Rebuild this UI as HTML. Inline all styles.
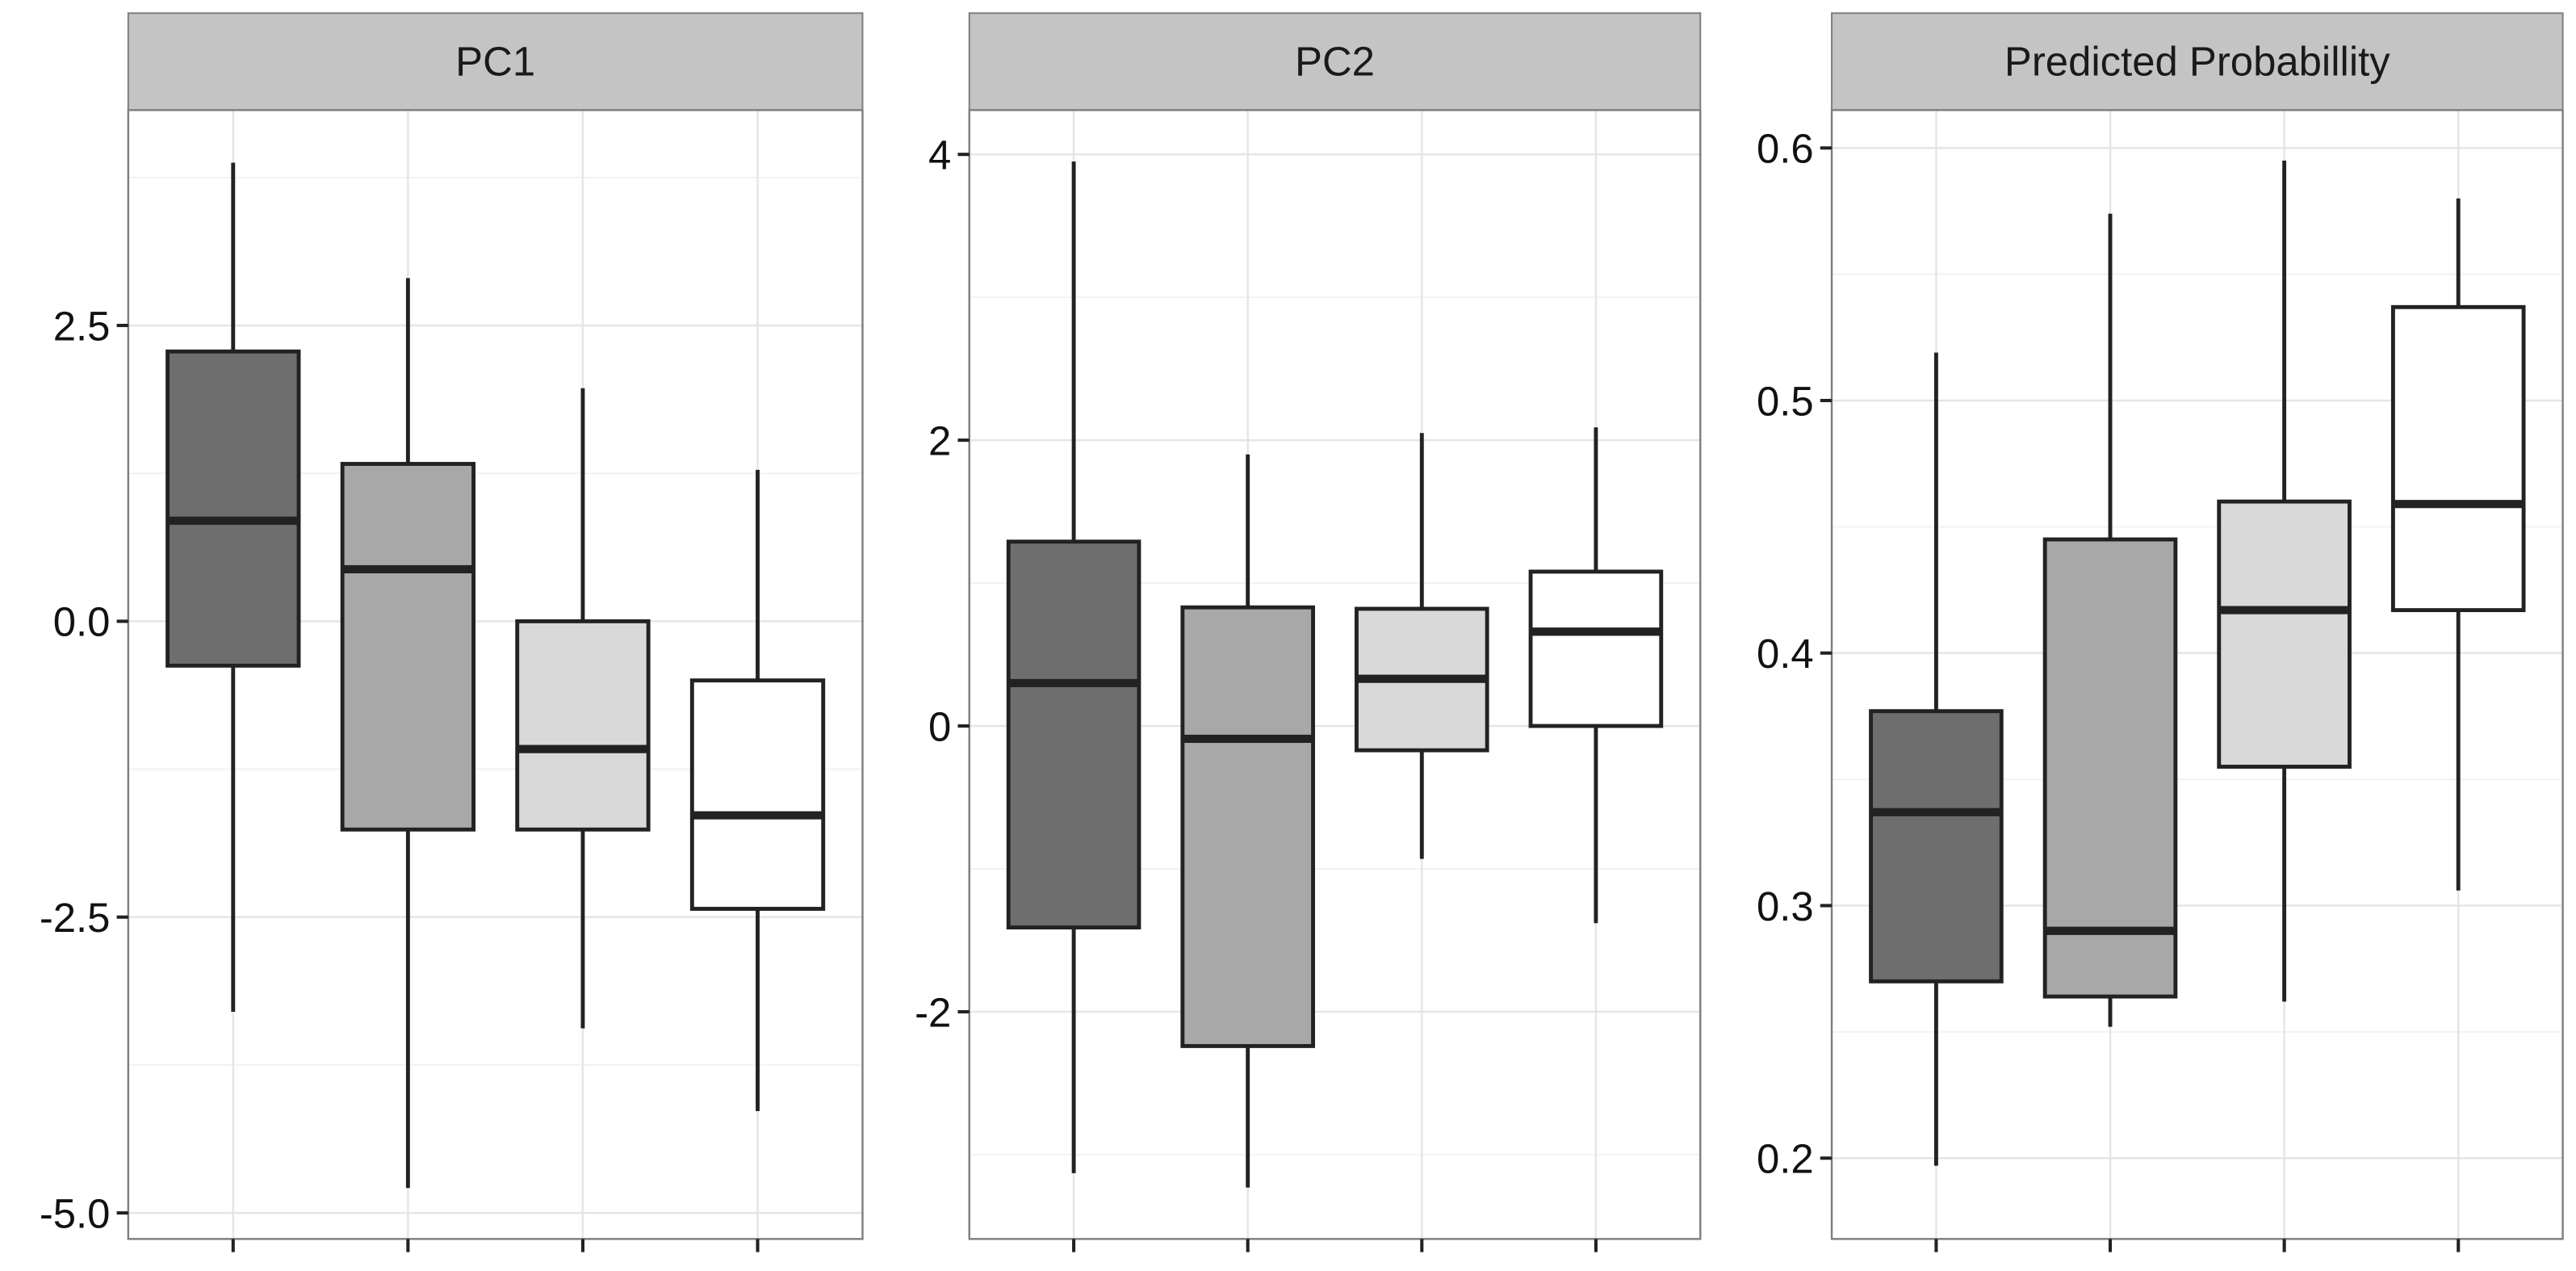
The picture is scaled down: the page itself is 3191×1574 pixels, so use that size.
<!DOCTYPE html>
<html><head><meta charset="utf-8"><style>
html,body{margin:0;padding:0;background:#fff;}
svg{display:block;font-family:"Liberation Sans",sans-serif;}
</style></head><body>
<svg id="chart" xmlns="http://www.w3.org/2000/svg" width="3191" height="1574" viewBox="0 0 1568 773.5"></svg>
<script>
const panelTitles = ["PC1", "PC2", "Predicted Probabillity"];
const groups = ["g1", "g2", "g3", "g4"];
const fills = ["#6e6e6e", "#a8a8a8", "#d9d9d9", "#ffffff"];
// per panel: [whiskerLow, Q1, median, Q3, whiskerHigh] for each group
const pc1Stats = [[-3.3,-0.375,0.85,2.28,3.875],[-4.79,-1.76,0.44,1.33,2.9],[-3.44,-1.76,-1.08,0,1.97],[-4.14,-2.43,-1.64,-0.5,1.28]];
const pc2Stats = [[-3.13,-1.41,0.3,1.29,3.95],[-3.23,-2.24,-0.09,0.83,1.9],[-0.93,-0.17,0.33,0.82,2.05],[-1.38,0,0.66,1.08,2.09]];
const probStats = [[0.197,0.270,0.337,0.377,0.519],[0.252,0.264,0.290,0.445,0.574],[0.262,0.355,0.417,0.460,0.595],[0.306,0.417,0.459,0.537,0.580]];
const pc1Ticks = [2.5,0,-2.5,-5];
const pc1TickLabels = ["2.5","0.0","-2.5","-5.0"];
const pc1Minor = [3.75,1.25,-1.25,-3.75];
const pc2Ticks = [4,2,0,-2];
const pc2TickLabels = ["4","2","0","-2"];
const pc2Minor = [3,1,-1,-3];
const probTicks = [0.6,0.5,0.4,0.3,0.2];
const probTickLabels = ["0.6","0.5","0.4","0.3","0.2"];
const probMinor = [0.55,0.45,0.35,0.25];
const pc1Domain = [-5.22, 4.32];
const pc2Domain = [-3.59, 4.31];
const probDomain = [0.168, 0.615];

const panels = [
  {x0:78,x1:525,stats:pc1Stats,ticks:pc1Ticks,labels:pc1TickLabels,minor:pc1Minor,dom:pc1Domain},
  {x0:590,x1:1035,stats:pc2Stats,ticks:pc2Ticks,labels:pc2TickLabels,minor:pc2Minor,dom:pc2Domain},
  {x0:1115,x1:1560,stats:probStats,ticks:probTicks,labels:probTickLabels,minor:probMinor,dom:probDomain}
];
const NS="http://www.w3.org/2000/svg";
const svgEl=document.getElementById('chart');
function mk(tag,attrs,parent){const e=document.createElementNS(NS,tag);for(const k in attrs)e.setAttribute(k,attrs[k]);(parent||svgEl).appendChild(e);return e;}
const stripTop=8, plotTop=67, plotBottom=754;
panels.forEach((p,pi)=>{
  const g=mk('g',{});
  
  
  const y=v=>plotBottom-(v-p.dom[0])/(p.dom[1]-p.dom[0])*(plotBottom-plotTop);
  const step=(p.x1-p.x0)/(groups.length-1+1.2);
  const x=i=>p.x0+step*(0.6+i);
  const st=mk('rect',{x:p.x0,y:stripTop,width:p.x1-p.x0,height:plotTop-stripTop,fill:'#c4c4c4',stroke:'#7f7f7f','stroke-width':1},g);
  
  
  const tt=mk('text',{x:(p.x0+p.x1)/2,y:46,'text-anchor':'middle','font-size':25,fill:'#1a1a1a'},g);
  tt.textContent=panelTitles[pi];
  
  
  mk('rect',{x:p.x0,y:plotTop,width:p.x1-p.x0,height:plotBottom-plotTop,fill:'#fff'},g);
  p.minor.forEach(v=>mk('line',{x1:p.x0,x2:p.x1,y1:y(v),y2:y(v),stroke:'#f2f2f2','stroke-width':1},g));
  p.ticks.forEach(v=>mk('line',{x1:p.x0,x2:p.x1,y1:y(v),y2:y(v),stroke:'#e5e5e5','stroke-width':1.2},g));
  groups.forEach((_,i)=>mk('line',{x1:x(i),x2:x(i),y1:plotTop,y2:plotBottom,stroke:'#e5e5e5','stroke-width':1.2},g));
  p.stats.forEach((s,i)=>{
    const bg=mk('g',{},g);
    
    
    const bw=step*0.75;
    mk('line',{x1:x(i),x2:x(i),y1:y(s[4]),y2:y(s[3]),stroke:'#222','stroke-width':2.4},bg);
    mk('line',{x1:x(i),x2:x(i),y1:y(s[1]),y2:y(s[0]),stroke:'#222','stroke-width':2.4},bg);
    mk('rect',{x:x(i)-bw/2,y:y(s[3]),width:bw,height:y(s[1])-y(s[3]),fill:fills[i],stroke:'#222','stroke-width':2.4},bg);
    mk('line',{x1:x(i)-bw/2,x2:x(i)+bw/2,y1:y(s[2]),y2:y(s[2]),stroke:'#222','stroke-width':5},bg);
  });
  mk('rect',{x:p.x0,y:plotTop,width:p.x1-p.x0,height:plotBottom-plotTop,fill:'none',stroke:'#7f7f7f','stroke-width':1.2},g);
  p.ticks.forEach((v,i)=>{
    mk('line',{x1:p.x0-7,x2:p.x0,y1:y(v),y2:y(v),stroke:'#222','stroke-width':2},g);
    const t=mk('text',{x:p.x0-11,y:y(v)+9,'text-anchor':'end','font-size':25,fill:'#111'},g);
    t.textContent=p.labels[i];
    
    
  });
  groups.forEach((_,i)=>mk('line',{x1:x(i),x2:x(i),y1:plotBottom,y2:plotBottom+8,stroke:'#222','stroke-width':2},g));
});
</script>
</body></html>
